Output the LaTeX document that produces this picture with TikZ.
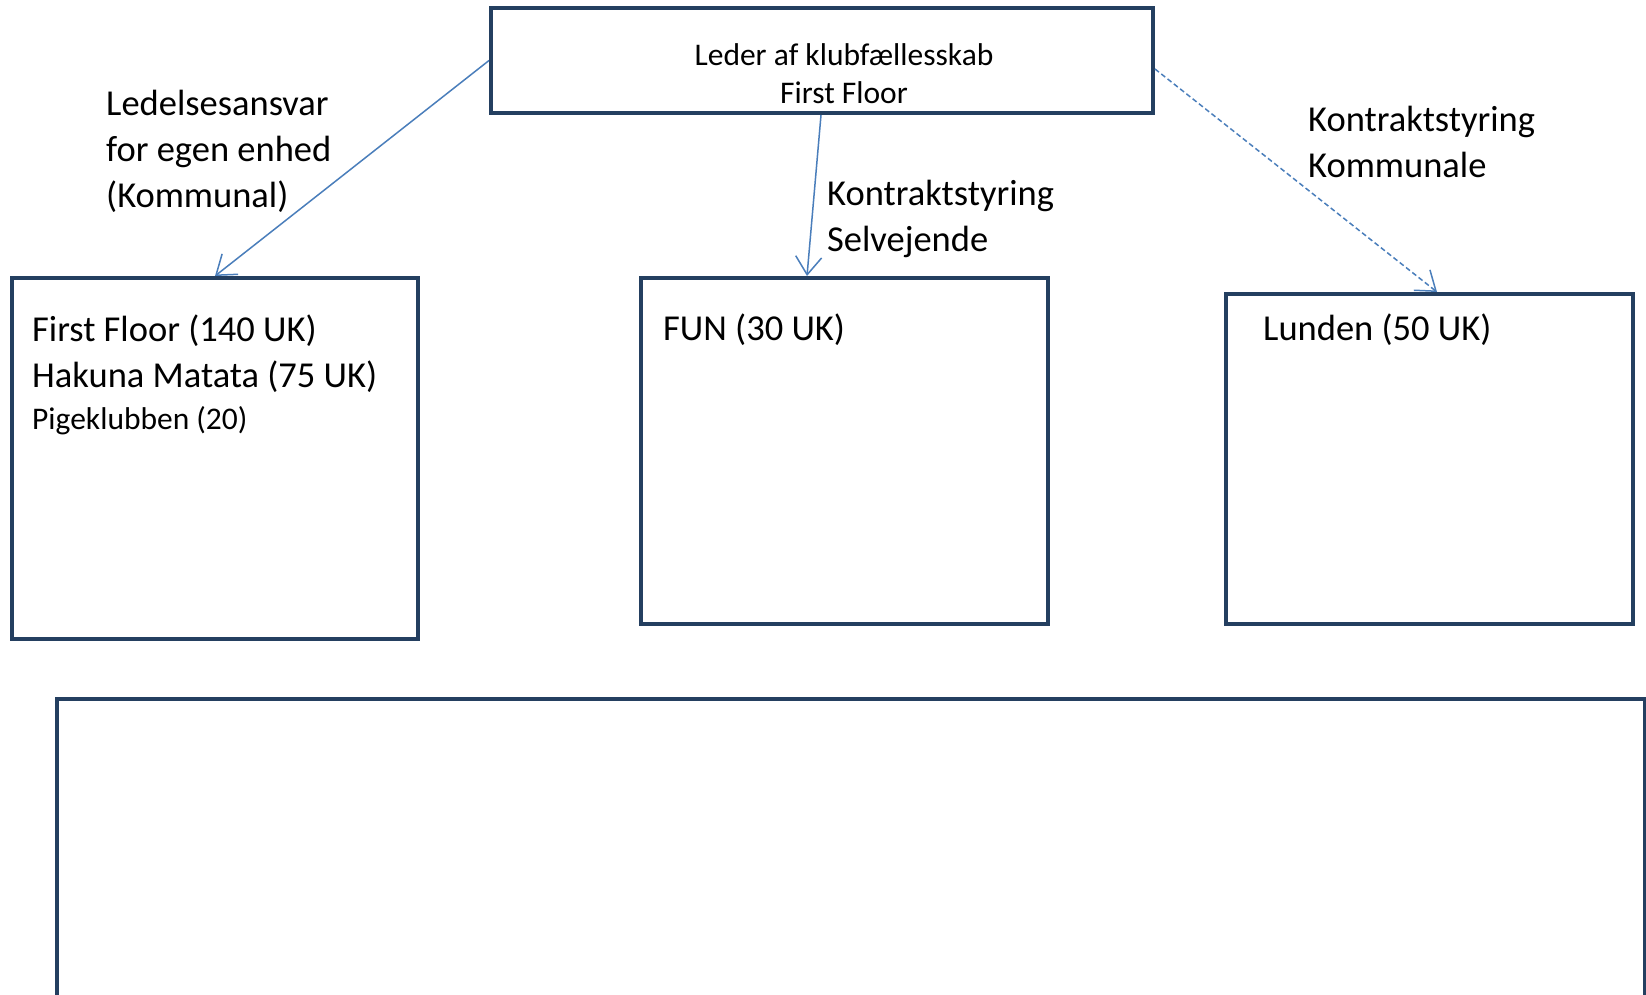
\documentclass[tikz,border=0pt]{standalone}
\usepackage{fontspec}
\setmainfont{Carlito}
\usetikzlibrary{arrows.meta}
\definecolor{boxnavy}{HTML}{243F60}
\definecolor{linkblue}{HTML}{4A7EBB}
\begin{document}
\begin{tikzpicture}[x=1pt,y=-1pt,
  orgbox/.style={draw=boxnavy, line width=4pt, inner sep=0pt, line join=miter},
  txt/.style={inner sep=0pt, align=left, anchor=west, font=\fontsize{36.5}{46}\selectfont},
  link/.style={draw=linkblue, line width=1.5pt, -{Straight Barb[length=18pt,width=26pt,line width=1.5pt]}},
  ]
\useasboundingbox[fill=white] (0,0) rectangle (1646,994);
% boxes
\node[orgbox, minimum width=662pt, minimum height=105pt] (top) at (822,60.5) {};
\node[orgbox, minimum width=406.5pt, minimum height=361pt] (left) at (215,458.5) {};
\node[orgbox, minimum width=407pt, minimum height=346pt] (mid) at (844.5,451) {};
\node[orgbox, minimum width=407pt, minimum height=330pt] (right) at (1429.5,459) {};
\node[orgbox, minimum width=1588pt, minimum height=402pt] (bottom) at (851,900) {};
% texts
\node[inner sep=0pt, align=center, font=\fontsize{31.5}{38}\selectfont] (toptxt) at (844,73.5) {Leder af klubfællesskab\\First Floor};
\node[txt] (lefttxt) at (32,374.5) {First Floor (140 UK)\\Hakuna Matata (75 UK)\\[-4pt]{\fontsize{31.5}{39}\selectfont Pigeklubben (20)}};
\node[txt] (midtxt) at (663,330) {FUN (30 UK)};
\node[txt] (righttxt) at (1263,330) {Lunden (50 UK)};
\node[txt] (lab1) at (106,151) {Ledelsesansvar\\for egen enhed\\(Kommunal)};
\node[txt] (lab2) at (827,219) {Kontraktstyring\\Selvejende};
\node[txt] (lab3) at (1308,142) {Kontraktstyring\\Kommunale};
% connectors
\draw[link] (top.west) -- (left.north);
\draw[link] ([xshift=-1pt]top.south) -- ([xshift=-37.5pt]mid.north);
\draw[link, dash pattern=on 5pt off 3pt] ([yshift=-8.5pt]top.east) -- ([xshift=7.5pt]right.north);
\end{tikzpicture}
\end{document}
